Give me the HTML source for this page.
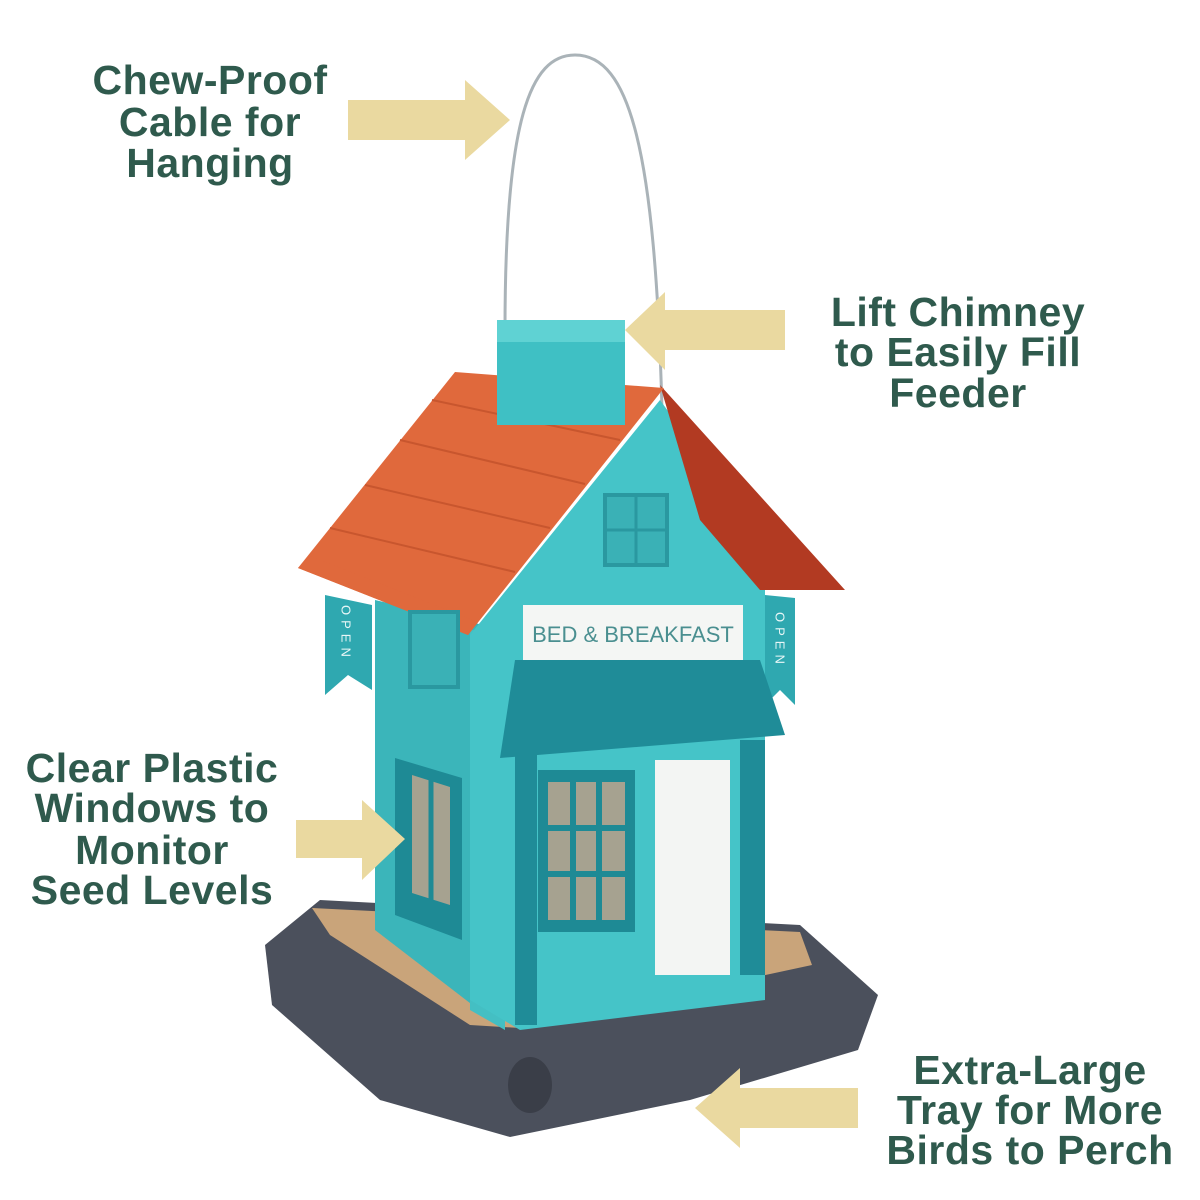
<!DOCTYPE html>
<html><head><meta charset="utf-8"><style>
html,body{margin:0;padding:0;background:#fff;}
svg{display:block}
text{font-family:"Liberation Sans",sans-serif;}
.lbl{fill:#2f5a4d;font-size:41px;font-weight:600;text-anchor:middle;letter-spacing:0.5px}
</style></head><body>
<svg width="1200" height="1200" viewBox="0 0 1200 1200" xmlns="http://www.w3.org/2000/svg">
<rect width="1200" height="1200" fill="#fff"/>
<!-- labels -->
<text class="lbl" x="210" y="94">Chew-Proof</text>
<text class="lbl" x="210" y="136">Cable for</text>
<text class="lbl" x="210" y="177">Hanging</text>
<text class="lbl" x="958" y="326">Lift Chimney</text>
<text class="lbl" x="958" y="366">to Easily Fill</text>
<text class="lbl" x="958" y="407">Feeder</text>
<text class="lbl" x="152" y="782">Clear Plastic</text>
<text class="lbl" x="152" y="822">Windows to</text>
<text class="lbl" x="152" y="864">Monitor</text>
<text class="lbl" x="152" y="904">Seed Levels</text>
<text class="lbl" x="1030" y="1084">Extra-Large</text>
<text class="lbl" x="1030" y="1124">Tray for More</text>
<text class="lbl" x="1030" y="1164">Birds to Perch</text>
<!-- cable -->
<path d="M505,330 C505,120 530,55 575,55 C630,55 655,150 662,410" fill="none" stroke="#aab3b8" stroke-width="3"/>
<!-- tray -->
<polygon points="265,945 320,900 800,925 878,995 858,1050 690,1100 510,1137 380,1100 272,1005" fill="#4b505c"/>
<polygon points="312,908 800,932 812,965 520,1028 470,1025 330,935" fill="#c9a47a"/>
<ellipse cx="530" cy="1085" rx="22" ry="28" fill="#3a3e48"/>
<!-- side wall -->
<polygon points="375,600 505,630 505,1030 375,930" fill="#3bb5ba"/>
<polygon points="470,630 505,630 505,1030 470,1010" fill="#44bfc3"/>
<!-- front wall -->
<polygon points="470,635 660,400 765,545 765,1000 520,1030 470,1000" fill="#45c4c8"/>
<!-- dark right side roof -->
<polygon points="660,385 845,590 760,590 700,520" fill="#b23a22"/>
<!-- front roof -->
<polygon points="298,568 455,372 664,388 468,635" fill="#e0693c"/>
<g stroke="#c8562e" stroke-width="2">
<line x1="330" y1="528" x2="515" y2="572"/><line x1="365" y1="485" x2="550" y2="528"/>
<line x1="400" y1="440" x2="585" y2="484"/><line x1="432" y1="400" x2="620" y2="440"/>
</g>
<!-- chimney -->
<rect x="497" y="320" width="128" height="105" fill="#3fc0c4"/>
<rect x="497" y="320" width="128" height="22" fill="#5fd2d3"/>
<!-- gable window -->
<rect x="605" y="495" width="62" height="70" fill="#3ab1b6" stroke="#2a98a0" stroke-width="4"/>
<line x1="636" y1="495" x2="636" y2="565" stroke="#2a98a0" stroke-width="3"/>
<line x1="605" y1="530" x2="667" y2="530" stroke="#2a98a0" stroke-width="3"/>
<!-- sign -->
<rect x="523" y="605" width="220" height="55" fill="#f4f6f4"/>
<text x="633" y="642" font-family="Liberation Serif,serif" font-size="22" fill="#4a8f90" text-anchor="middle">BED &amp; BREAKFAST</text>
<!-- open banners -->
<polygon points="325,595 372,605 372,690 348,675 325,695" fill="#2fa8b0"/>
<text x="346" y="605" font-family="Liberation Serif,serif" font-size="13" fill="#e8f7f7" writing-mode="tb" letter-spacing="5">OPEN</text>
<polygon points="765,595 795,598 795,705 780,690 765,705" fill="#2fa8b0"/>
<text x="780" y="612" font-family="Liberation Serif,serif" font-size="13" fill="#e8f7f7" writing-mode="tb" letter-spacing="5">OPEN</text>
<!-- roof over left banner top -->
<polygon points="298,568 468,635 478,622 310,556" fill="#e0693c"/>
<!-- side upper window -->
<rect x="410" y="612" width="48" height="75" fill="#3ab1b6" stroke="#2a98a0" stroke-width="4"/>
<!-- porch roof -->
<polygon points="515,660 760,660 785,735 500,758" fill="#1f8c98"/>
<!-- porch posts -->
<rect x="515" y="755" width="22" height="270" fill="#1f8c98"/>
<rect x="740" y="740" width="25" height="235" fill="#1f8c98"/>
<!-- door -->
<rect x="655" y="760" width="75" height="215" fill="#f3f5f3"/>
<!-- front window -->
<rect x="538" y="770" width="97" height="162" fill="#1e8a95"/>
<rect x="548" y="782" width="77" height="138" fill="#a6a290"/>
<g stroke="#1e8a95" stroke-width="6">
<line x1="573" y1="782" x2="573" y2="920"/><line x1="599" y1="782" x2="599" y2="920"/>
<line x1="548" y1="828" x2="625" y2="828"/><line x1="548" y1="874" x2="625" y2="874"/>
</g>
<!-- side window -->
<polygon points="395,758 462,778 462,940 395,915" fill="#1e8a95"/>
<polygon points="412,775 450,787 450,905 412,893" fill="#a6a290"/>
<line x1="431" y1="780" x2="431" y2="900" stroke="#1e8a95" stroke-width="5"/>
<!-- arrows (on top) -->
<g fill="#ead9a0">
<polygon points="348,100 465,100 465,80 510,120 465,160 465,140 348,140"/>
<polygon points="785,310 665,310 665,292 625,330 665,370 665,350 785,350"/>
<polygon points="296,820 362,820 362,800 405,839 362,880 362,858 296,858"/>
<polygon points="858,1088 740,1088 740,1068 695,1108 740,1148 740,1128 858,1128"/>
</g>
</svg>
</body></html>
